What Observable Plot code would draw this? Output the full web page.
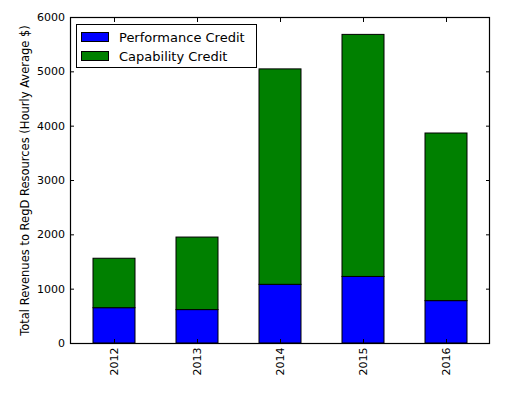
<!DOCTYPE html>
<html>
<head>
<meta charset="utf-8">
<script src="https://cdn.jsdelivr.net/npm/d3@7"></script>
<script src="https://cdn.jsdelivr.net/npm/@observablehq/plot@0.6"></script>
<style>
  html, body { margin: 0; padding: 0; background: #fff; }
  #wrap { position: relative; width: 510px; height: 395px; font-family: "DejaVu Sans", sans-serif; }
  #legend { position: absolute; left: 76px; top: 24px; width: 181px; height: 44px; border: 1px solid #000; background: #fff; box-sizing: border-box; }
  .row { position: absolute; left: 4px; height: 14px; display: flex; align-items: center; font-size: 13px; color: #000; white-space: nowrap; }
  .sw { width: 28px; height: 10px; border: 1px solid #000; margin-right: 10px; box-sizing: border-box; }
</style>
</head>
<body>
<div id="wrap"></div>
<script>
const years = ["2012", "2013", "2014", "2015", "2016"];
const performance = [650, 615, 1080, 1225, 780];
const capabilityTotal = [1560, 1950, 5045, 5680, 3865];
const seriesNames = ["Performance Credit", "Capability Credit"];
const seriesColors = ["#0000ff", "#008000"];
const yTicks = [0, 1000, 2000, 3000, 4000, 5000, 6000];
const yTitle = "Total Revenues to RegD Resources (Hourly Average $)";

const rows = [];
years.forEach((y, i) => {
  rows.push({year: y, series: seriesNames[0], value: performance[i]});
  rows.push({year: y, series: seriesNames[1], value: capabilityTotal[i] - performance[i]});
});

const font = "DejaVu Sans, sans-serif";
const chart = Plot.plot({
  width: 510,
  height: 395,
  marginLeft: 70,
  marginRight: 21,
  marginTop: 17,
  marginBottom: 52,
  style: {fontFamily: font, fontSize: "11px", color: "#000", background: "#fff"},
  x: {domain: years, paddingInner: 0.5, paddingOuter: 0.25, align: 0.5, label: null},
  y: {domain: [0, 6000], label: null},
  color: {domain: seriesNames, range: seriesColors},
  marks: [
    Plot.barY(rows, {x: "year", y: "value", fill: "series", stroke: "#000", strokeWidth: 1, z: "series"}),
    Plot.frame({stroke: "#000", strokeWidth: 1.2}),
    Plot.axisY(yTicks, {anchor: "left", tickSize: -4, tickPadding: 9.5, tickFormat: d3.format("d"), fontSize: 11, label: null}),
    Plot.axisY(yTicks, {anchor: "right", tickSize: -4, tickFormat: () => "", label: null}),
    Plot.axisX({anchor: "bottom", tickSize: -4, tickRotate: -90, tickPadding: 8, fontSize: 11, label: null}),
    Plot.axisX({anchor: "top", tickSize: -4, tickFormat: () => "", label: null}),
    Plot.text([yTitle], {frameAnchor: "left", dx: -45, rotate: -90, textAnchor: "middle", text: d => d, fontSize: 11.5, fill: "#000"})
  ]
});

const wrap = document.getElementById("wrap");
wrap.appendChild(chart);

const legend = document.createElement("div");
legend.id = "legend";
seriesNames.forEach((name, i) => {
  const row = document.createElement("div");
  row.className = "row";
  row.style.top = (5 + i * 19) + "px";
  const sw = document.createElement("div");
  sw.className = "sw";
  sw.style.background = seriesColors[i];
  row.appendChild(sw);
  const t = document.createElement("span");
  t.textContent = name;
  row.appendChild(t);
  legend.appendChild(row);
});
wrap.appendChild(legend);
</script>
</body>
</html>
